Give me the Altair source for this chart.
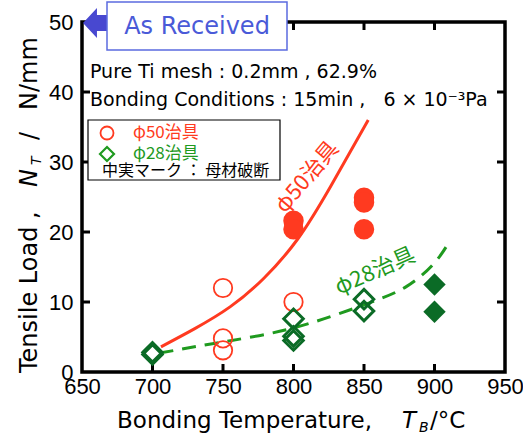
import altair as alt
import pandas as pd

# ---------------- data ----------------
temp_ticks = [650, 700, 750, 800, 850, 900, 950]
load_ticks = [0, 10, 20, 30, 40, 50]
inner_temp_ticks = [700, 750, 800, 850, 900]
inner_load_ticks = [10, 20, 30, 40]

phi50_open_T = [750, 750, 750, 800]
phi50_open_N = [12.0, 4.8, 3.1, 10.0]
phi50_solid_T = [800, 800, 850, 850, 850]
phi50_solid_N = [21.6, 20.4, 24.9, 24.2, 20.4]
phi28_open_T = [700, 700, 800, 800, 800, 850, 850]
phi28_open_N = [2.5, 2.8, 7.6, 5.1, 4.5, 10.4, 8.7]
phi28_solid_T = [900, 900]
phi28_solid_N = [12.5, 8.6]

curve50_T = [706, 730, 755, 779, 803, 826, 853]
curve50_N = [3.6, 6.2, 9.3, 13.4, 19.0, 26.4, 36.0]
curve28_T = [705, 750, 800, 850, 880, 900, 911]
curve28_N = [2.7, 4.3, 6.3, 9.6, 12.2, 15.6, 18.8]

# ---------------- style ----------------
W, H = 423, 350
RED = "#ff3a20"
GREEN = "#1f9a1f"
DKGREEN = "#0b6b26"
BLUE = "#4848d0"
LATIN = "DejaVu Sans"
CJK = "Noto Sans CJK JP"
TICKFONT = "Liberation Sans Narrow, Liberation Sans, Arial"
NB = "\u00a0"

xs = alt.Scale(domain=[650, 950], nice=False)
ys = alt.Scale(domain=[0, 50], nice=False)
xaxis = alt.Axis(values=temp_ticks, title=None, domain=False, ticks=False, tickSize=0,
                 grid=False, labelFont=TICKFONT, labelFontSize=22, labelColor="black",
                 labelPadding=4, labelFlush=False, labelOverlap=False)
yaxis = alt.Axis(values=load_ticks, title=None, domain=False, ticks=False, tickSize=0,
                 grid=False, labelFont=TICKFONT, labelFontSize=22, labelColor="black",
                 labelPadding=9, labelFlush=False, labelOverlap=False)

def df(T, N):
    return pd.DataFrame({"T": T, "N": N})

X = alt.X("T:Q", scale=xs, axis=xaxis)
Y = alt.Y("N:Q", scale=ys, axis=yaxis)

one = alt.Data(values=[{}])

# frame
frame = alt.Chart(one).mark_rect(fillOpacity=0, stroke="black", strokeWidth=3.5).encode(
    x=alt.value(0), x2=alt.value(W), y=alt.value(0), y2=alt.value(H))

tx = pd.DataFrame({"T": inner_temp_ticks})
ty = pd.DataFrame({"N": inner_load_ticks})
tick_b = alt.Chart(tx).mark_rule(color="black", strokeWidth=3).encode(
    x=X, y=alt.value(H), y2=alt.value(H - 8))
tick_t = alt.Chart(tx).mark_rule(color="black", strokeWidth=3).encode(
    x=X, y=alt.value(0), y2=alt.value(8))
tick_l = alt.Chart(ty).mark_rule(color="black", strokeWidth=3).encode(
    y=Y, x=alt.value(0), x2=alt.value(8))
tick_r = alt.Chart(ty).mark_rule(color="black", strokeWidth=3).encode(
    y=Y, x=alt.value(W), x2=alt.value(W - 8))

# curves
c50 = alt.Chart(df(curve50_T, curve50_N)).mark_line(
    color=RED, strokeWidth=3, interpolate="natural").encode(x=X, y=Y)
c28 = alt.Chart(df(curve28_T, curve28_N)).mark_line(
    color=GREEN, strokeWidth=3, strokeDash=[14, 9], interpolate="natural").encode(x=X, y=Y)

# points
p50o = alt.Chart(df(phi50_open_T, phi50_open_N)).mark_point(
    shape="circle", filled=False, size=340, strokeWidth=1.8, color=RED, opacity=1).encode(x=X, y=Y)
p50s = alt.Chart(df(phi50_solid_T, phi50_solid_N)).mark_point(
    shape="circle", filled=True, size=420, color=RED, opacity=1).encode(x=X, y=Y)
p28o = alt.Chart(df(phi28_open_T, phi28_open_N)).mark_point(
    shape="diamond", filled=False, size=380, strokeWidth=3, color=DKGREEN, opacity=1).encode(x=X, y=Y)
p28s = alt.Chart(df(phi28_solid_T, phi28_solid_N)).mark_point(
    shape="diamond", filled=True, size=500, color=DKGREEN, opacity=1).encode(x=X, y=Y)

# curve labels
lab50 = alt.Chart(one).mark_text(text="φ50治具", font=CJK, fontSize=22, color=RED,
                                 angle=310, align="center", baseline="middle").encode(
    x=alt.value(225), y=alt.value(155))
lab28 = alt.Chart(one).mark_text(text="φ28治具", font=CJK, fontSize=22, color=GREEN,
                                 angle=336, align="center", baseline="middle").encode(
    x=alt.value(293), y=alt.value(249))

# "As Received" arrow + box
arrow_path = "M-1,0 L-0.07,-1 L-0.07,-0.53 L1,-0.53 L1,0.53 L-0.07,0.53 L-0.07,1 Z"
arrow = alt.Chart(one).mark_point(shape=arrow_path, filled=True, size=900, color=BLUE,
                                  opacity=1, strokeWidth=0).encode(
    x=alt.value(16), y=alt.value(1))
box = alt.Chart(one).mark_rect(fill="white", stroke="#5b6be0", strokeWidth=1.5).encode(
    x=alt.value(25), x2=alt.value(205), y=alt.value(-20), y2=alt.value(28))
box_txt = alt.Chart(one).mark_text(text="As Received", font=LATIN, fontSize=24, color="#4a5ad8",
                                   align="center", baseline="middle").encode(
    x=alt.value(115), y=alt.value(5))

# condition texts
cond1 = alt.Chart(one).mark_text(text="Pure Ti mesh : 0.2mm , 62.9%", font=LATIN, fontSize=19,
                                 color="black", align="left", baseline="middle").encode(
    x=alt.value(8), y=alt.value(50))
cond2 = alt.Chart(one).mark_text(text=f"Bonding Conditions : 15min ,{NB}{NB}{NB}6 × 10⁻³Pa",
                                 font=LATIN, fontSize=19, color="black", align="left",
                                 baseline="middle").encode(x=alt.value(8), y=alt.value(78))

# legend box
lbox = alt.Chart(one).mark_rect(fill="white", stroke="black", strokeWidth=1.2).encode(
    x=alt.value(6), x2=alt.value(198), y=alt.value(98), y2=alt.value(158))
lsym1 = alt.Chart(one).mark_point(shape="circle", filled=False, size=169, strokeWidth=1.8,
                                  color=RED, opacity=1).encode(x=alt.value(25), y=alt.value(111))
lsym2 = alt.Chart(one).mark_point(shape="diamond", filled=False, size=196, strokeWidth=2.2,
                                  color=GREEN, opacity=1).encode(x=alt.value(25), y=alt.value(132))
ltxt1 = alt.Chart(one).mark_text(text="φ50治具", font=CJK, fontSize=17, color=RED,
                                 align="left", baseline="middle").encode(x=alt.value(51), y=alt.value(111))
ltxt2 = alt.Chart(one).mark_text(text="φ28治具", font=CJK, fontSize=17, color=GREEN,
                                 align="left", baseline="middle").encode(x=alt.value(51), y=alt.value(132))
ltxt3 = alt.Chart(one).mark_text(text=f"中実マーク{NB}：{NB}母材破断", font=CJK, fontSize=16,
                                 color="black", align="left", baseline="middle").encode(
    x=alt.value(20), y=alt.value(149))

# axis titles (composed)
def txt(s, x, y, size, align="left", baseline="alphabetic", angle=0, style="normal"):
    return alt.Chart(one).mark_text(text=s, font=LATIN, fontSize=size, color="black",
                                    align=align, baseline=baseline, angle=angle,
                                    fontStyle=style).encode(x=alt.value(x), y=alt.value(y))

xt = [
    txt("Bonding Temperature,", 290, 406, 23, align="right"),
    txt("T", 320, 406, 23, style="italic"),
    txt("B", 337, 410, 14, style="italic"),
    txt("/°C", 348, 406, 23),
]
yt = [
    txt("Tensile Load ,", -45, 351, 24, angle=270),
    txt("N", -45, 165, 24, angle=270, style="italic"),
    txt("T", -41, 143, 14, angle=270, style="italic"),
    txt("/", -45, 118, 24, angle=270),
    txt("N/mm", -45, 88, 24, angle=270),
]

chart = alt.layer(
    frame, tick_b, tick_t, tick_l, tick_r,
    c50, c28, p50o, p50s, p28o, p28s,
    lab50, lab28,
    arrow, box, box_txt, cond1, cond2,
    lbox, lsym1, lsym2, ltxt1, ltxt2, ltxt3,
    *xt, *yt,
).properties(
    width=W, height=H,
    padding={"left": 82, "top": 22, "right": 18, "bottom": 65},
    autosize=alt.AutoSizeParams(type="none"),
    background="white",
).configure_view(stroke=None)

chart.save("out.html", embed_options={"renderer": "svg", "actions": False})
